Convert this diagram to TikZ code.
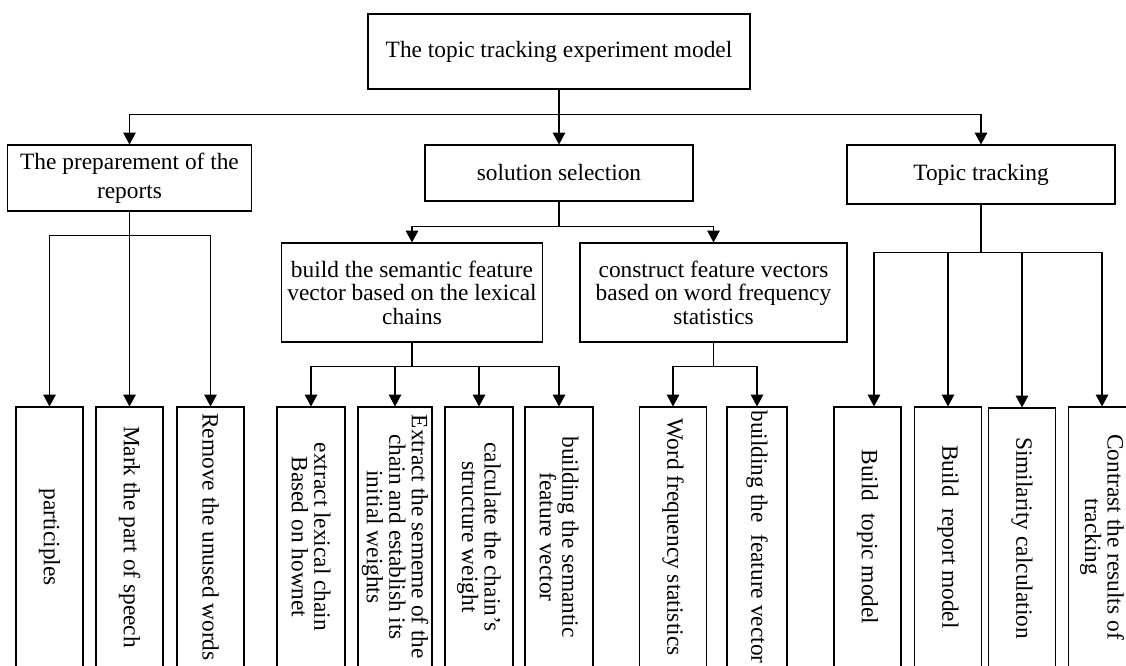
\documentclass[tikz,border=0pt]{standalone}
\usepackage{fontspec}
\setmainfont{Liberation Serif}
\usetikzlibrary{arrows.meta}
\begin{document}
\begin{tikzpicture}[scale=1.00]
  % thin lines for all boxes and connectors
  \tikzstyle{every path}=[line width=0.6pt]
  \tikzstyle{box}=[draw, align=center, inner sep=1pt, font=\fontsize{13.3}{13.4}\selectfont]
  % leaves are turned, so their west anchor is the top
  \tikzstyle{leaf}=[box, rotate=-90, minimum width=5.20cm, font=\fontsize{13.3}{12.8}\selectfont]
  \tikzstyle{arr}=[-{Triangle[length=6.8pt,width=7.2pt]}]

  \useasboundingbox (0,0) rectangle (22.52,13.32);

  % Draw the upper boxes
  \node [box, minimum width=7.64cm, minimum height=1.50cm] (Root) at (11.18, 12.29) {The topic tracking experiment model};
  \node [box, minimum width=4.89cm, minimum height=1.32cm] (Prep) at (2.59, 9.76) {The preparement of the\\[3pt]reports};
  \node [box, minimum width=5.36cm, minimum height=1.12cm] (Sol) at (11.18, 9.86) {solution selection};
  \node [box, minimum width=5.36cm, minimum height=1.18cm] (Topic) at (19.62, 9.83) {Topic tracking};
  \node [box, minimum width=5.23cm, minimum height=1.98cm] (Sem) at (8.24, 7.47) {build the semantic feature\\vector based on the lexical\\chains};
  \node [box, minimum width=5.34cm, minimum height=1.98cm] (Con) at (14.27, 7.47) {construct feature vectors\\based on word frequency\\statistics};

  % Draw the leaves
  \node [leaf, minimum height=1.34cm] (P1) at (0.99, 2.58) {participles};
  \node [leaf, minimum height=1.34cm] (P2) at (2.59, 2.58) {Mark the part of speech};
  \node [leaf, minimum height=1.34cm] (P3) at (4.21, 2.58) {Remove the unused words};

  \node [leaf, minimum height=1.36cm] (S1) at (6.22, 2.58) {extract lexical chain\\Based on hownet};
  \node [leaf, minimum height=1.48cm] (S2) at (7.90, 2.58) {Extract the sememe of the\\chain and establish its\\initial weights};
  \node [leaf, minimum height=1.36cm] (S3) at (9.58, 2.58) {calculate the chain's\\structure weight};
  \node [leaf, minimum height=1.36cm] (S4) at (11.18, 2.58) {building the semantic\\feature vector};

  \node [leaf, minimum height=1.34cm] (C1) at (13.46, 2.58) {Word frequency statistics};
  \node [leaf, minimum height=1.20cm] (C2) at (15.14, 2.58) {building the\ \ feature vector};

  \node [leaf, minimum height=1.34cm] (T1) at (17.35, 2.58) {Build\ \ topic model};
  \node [leaf, minimum height=1.34cm] (T2) at (18.96, 2.58) {Build\ \ report model};
  \node [leaf, minimum height=1.33cm] (T3) at (20.44, 2.56) {Similarity calculation};
  \node [leaf, minimum height=1.34cm] (T4) at (22.04, 2.58) {Contrast the results of\\tracking};

  % top level connectors
  \draw [arr] (Root.south) -- ++(0,-0.50) -| (Prep.north);
  \draw [arr] (Root.south) -- (Sol.north);
  \draw [arr] (Root.south) -- ++(0,-0.50) -| (Topic.north);

  % preparation connectors
  \draw [arr] (Prep.south) -- ++(0,-0.48) -| (P1.west);
  \draw [arr] (Prep.south) -- (P2.west);
  \draw [arr] (Prep.south) -- ++(0,-0.48) -| (P3.west);

  % solution connectors
  \draw [arr] (Sol.south) -- ++(0,-0.50) -| (Sem.north);
  \draw [arr] (Sol.south) -- ++(0,-0.50) -| (Con.north);

  \draw [arr] (Sem.south) -- ++(0,-0.48) -| (S1.west);
  \draw [arr] (Sem.south) -- ++(0,-0.48) -| (S2.west);
  \draw [arr] (Sem.south) -- ++(0,-0.48) -| (S3.west);
  \draw [arr] (Sem.south) -- ++(0,-0.48) -| (S4.west);

  \draw [arr] (Con.south) -- ++(0,-0.48) -| (C1.west);
  \draw [arr] (Con.south) -- ++(0,-0.48) -| (C2.west);

  % tracking connectors
  \draw [arr] (Topic.south) -- ++(0,-0.96) -| ([xshift=0.13cm]T1.west);
  \draw [arr] (Topic.south) -- ++(0,-0.96) -| (T2.west);
  \draw [arr] (Topic.south) -- ++(0,-0.96) -| (T3.west);
  \draw [arr] (Topic.south) -- ++(0,-0.96) -| (T4.west);

\end{tikzpicture}
\end{document}
